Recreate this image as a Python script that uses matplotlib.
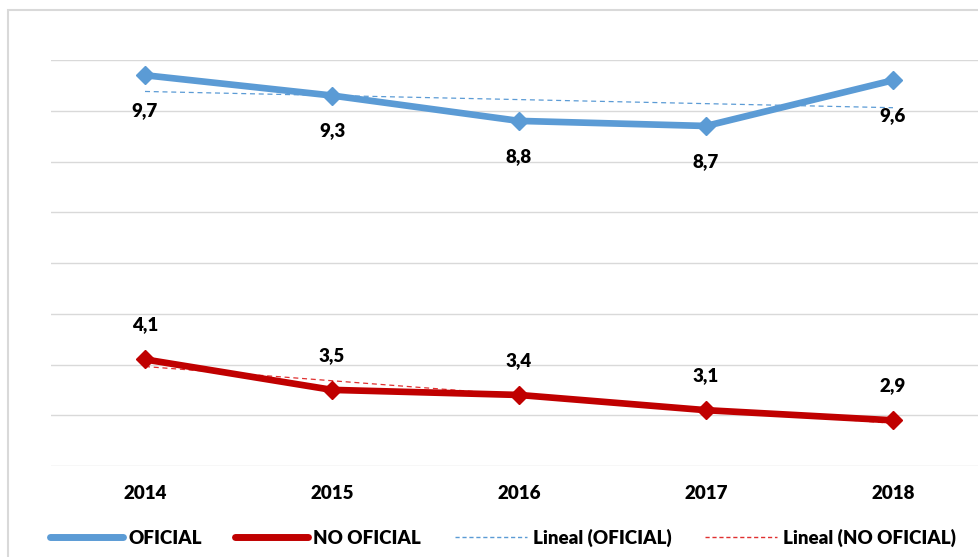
import numpy as np
import matplotlib
matplotlib.use("Agg")
import matplotlib.pyplot as plt
from matplotlib.patches import Rectangle
from matplotlib.lines import Line2D

years = ["2014", "2015", "2016", "2017", "2018"]
oficial = [9.7, 9.3, 8.8, 8.7, 9.6]
no_oficial = [4.1, 3.5, 3.4, 3.1, 2.9]

BLUE = "#5B9BD5"
RED = "#C00000"
TREND_RED = "#E03030"

plt.rcParams["font.family"] = ["Lato", "DejaVu Sans"]
W = "heavy"

fig = plt.figure(figsize=(9.79, 5.57), dpi=100)
ax = fig.add_axes([51.5 / 979, 91 / 557, 935 / 979, 406 / 557])

x = np.arange(len(years))

# linear trend lines
for vals, col in [(oficial, BLUE), (no_oficial, TREND_RED)]:
    m, b = np.polyfit(x, vals, 1)
    ax.plot(x, m * x + b, color=col, lw=0.9, ls=(0, (4, 3)), zorder=2)

ax.plot(x, oficial, color=BLUE, lw=4.8, marker="D", ms=9, zorder=3)
ax.plot(x, no_oficial, color=RED, lw=4.8, marker="D", ms=9, zorder=3)

for xi, v in zip(x, oficial):
    ax.annotate(f"{v:.1f}".replace(".", ","), (xi, v), xytext=(0, -25.5), textcoords="offset points",
                ha="center", va="center", fontsize=13.5, fontweight=W)
for xi, v in zip(x, no_oficial):
    ax.annotate(f"{v:.1f}".replace(".", ","), (xi, v), xytext=(0, 25), textcoords="offset points",
                ha="center", va="center", fontsize=13.5, fontweight=W)

ax.set_xlim(-0.5, 4.5)
ax.set_ylim(2, 10)
ax.set_yticks(np.arange(2, 11, 1))
ax.yaxis.grid(True, color="#D9D9D9", lw=1)
ax.set_axisbelow(True)
ax.tick_params(axis="y", left=False, labelleft=False)
ax.tick_params(axis="x", length=0, pad=14)
ax.set_xticks(x)
ax.set_xticklabels(years, fontsize=13.5, fontweight=W)
for s in ax.spines.values():
    s.set_visible(False)

# outer chart border
fig.patches.append(Rectangle((8 / 979, -0.1), 1.2, 1 - 10 / 557 + 0.1, transform=fig.transFigure,
                             fill=False, edgecolor="#D9D9D9", lw=1.5, clip_on=False))

handles = [
    Line2D([], [], color=BLUE, lw=5, solid_capstyle="round"),
    Line2D([], [], color=RED, lw=5, solid_capstyle="round"),
    Line2D([], [], color=BLUE, lw=1, ls=(0, (3, 2))),
    Line2D([], [], color=TREND_RED, lw=1, ls=(0, (3, 2))),
]
labels = ["OFICIAL", "NO OFICIAL", "Lineal (OFICIAL)", "Lineal (NO OFICIAL)"]
fig.legend(handles, labels, loc="center", bbox_to_anchor=(503 / 979, 1 - 538 / 557), ncol=4,
           frameon=False, prop={"size": 13.5, "weight": W}, handlelength=3.85,
           columnspacing=1.8, handletextpad=0.3)

fig.savefig("out.png", dpi=100)
